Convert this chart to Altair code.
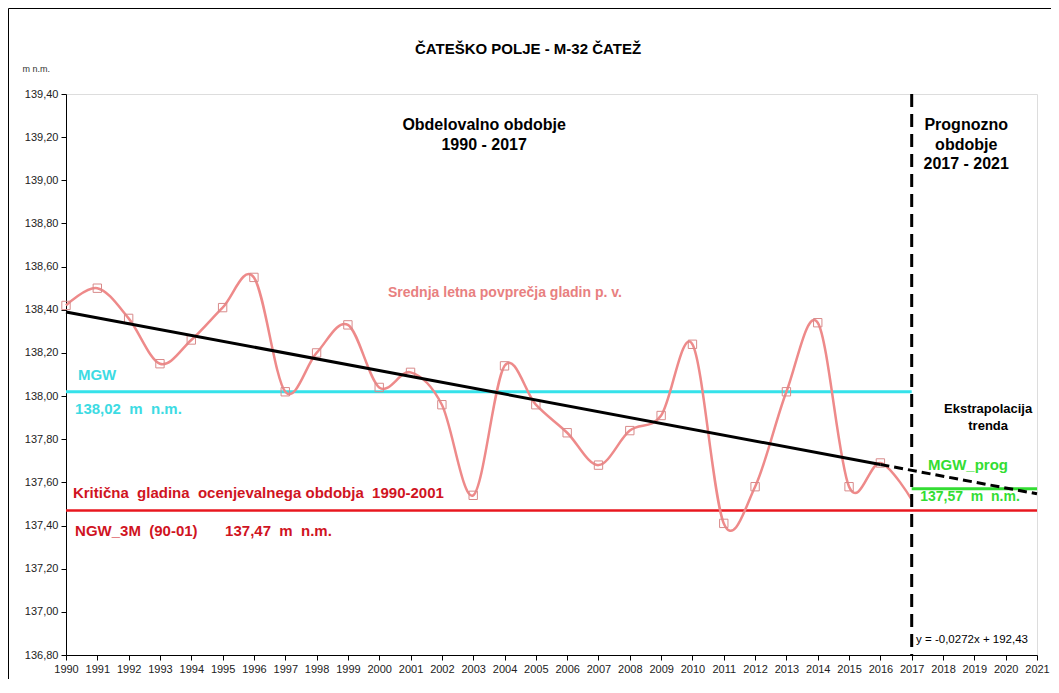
import altair as alt
import pandas as pd

# ---------------- data ----------------
years = list(range(1990, 2018))
levels = [138.42, 138.50, 138.36, 138.15, 138.26, 138.41, 138.55, 138.02,
          138.20, 138.33, 138.04, 138.11, 137.96, 137.54, 138.14, 137.96,
          137.83, 137.68, 137.84, 137.91, 138.24, 137.41, 137.58, 138.02,
          138.34, 137.58, 137.69, 137.52]

trend_solid_years = [1990, 2016]
trend_solid_values = [138.39, 137.683]
trend_dash_years = [2016, 2021]
trend_dash_values = [137.683, 137.547]

mgw_value = 138.02
ngw_value = 137.47
mgw_prog_value = 137.57
split_year = 2017
start_year = 1990
end_year = 2021

x_ticks = list(range(1990, 2022))
y_ticks = [136.8, 137.0, 137.2, 137.4, 137.6, 137.8, 138.0, 138.2,
           138.4, 138.6, 138.8, 139.0, 139.2, 139.4]

FONT = "Liberation Sans"
NB = "\u00a0"

# ---------------- encodings ----------------
x_scale = alt.Scale(domain=[1990, 2021], nice=False, zero=False)
y_scale = alt.Scale(domain=[136.8, 139.4], nice=False, zero=False)

x_axis = alt.Axis(values=x_ticks, format="d", grid=False, tickSize=5,
                  labelFontSize=11, labelFont=FONT, labelColor="#222222",
                  domainColor="#000000", tickColor="#000000", labelPadding=3,
                  labelFlush=False, title=None, labelOverlap=False)
y_axis = alt.Axis(values=y_ticks, grid=False, tickSize=5,
                  labelExpr="replace(format(datum.value, '.2f'), '.', ',')",
                  labelFontSize=11, labelFont=FONT, labelColor="#222222",
                  domainColor="#000000", tickColor="#000000", labelPadding=3,
                  title="m n.m.", titleAngle=0, titleX=-44, titleY=-26,
                  titleAlign="left", titleBaseline="middle", titleFontSize=9,
                  titleFontWeight="normal", titleFont=FONT, titleColor="#333333")


def X(field):
    return alt.X(f"{field}:Q", scale=x_scale, axis=x_axis)


def Y(field):
    return alt.Y(f"{field}:Q", scale=y_scale, axis=y_axis)


series = pd.DataFrame({"year": years, "level": levels})

# frame around the whole figure (left and top edges visible)
frame = alt.Chart(pd.DataFrame({"a": [0]})).mark_rect(
    filled=False, stroke="#000000", strokeWidth=1
).encode(x=alt.value(-57.5), x2=alt.value(1200), y=alt.value(-85.5), y2=alt.value(800))

mgw_line = alt.Chart(pd.DataFrame({"x": [start_year], "x2": [split_year], "y": [mgw_value]})).mark_rule(
    color="#35e2ea", strokeWidth=3
).encode(x=X("x"), x2="x2:Q", y=Y("y"))

ngw_line = alt.Chart(pd.DataFrame({"x": [start_year], "x2": [end_year], "y": [ngw_value]})).mark_rule(
    color="#e8171f", strokeWidth=2.5
).encode(x=X("x"), x2="x2:Q", y=Y("y"))

prog_line = alt.Chart(pd.DataFrame({"x": [split_year], "x2": [end_year], "y": [mgw_prog_value]})).mark_rule(
    color="#33dd33", strokeWidth=3
).encode(x=X("x"), x2="x2:Q", y=Y("y"))

level_line = alt.Chart(series).mark_line(
    color="#ee8a8a", strokeWidth=2.5, interpolate="cardinal"
).encode(x=X("year"), y=Y("level"))

level_points = alt.Chart(series).transform_filter(
    f"datum.year < {split_year}"
).mark_point(
    shape="square", size=70, filled=False, color="#d88a8a", strokeWidth=1, opacity=1
).encode(x=X("year"), y=Y("level"))

trend_solid = alt.Chart(pd.DataFrame({"year": trend_solid_years, "v": trend_solid_values})).mark_line(
    color="#000000", strokeWidth=3
).encode(x=X("year"), y=Y("v"))

trend_dash = alt.Chart(pd.DataFrame({"year": trend_dash_years, "v": trend_dash_values})).mark_line(
    color="#000000", strokeWidth=3, strokeDash=[9, 5]
).encode(x=X("year"), y=Y("v"))

split_rule = alt.Chart(pd.DataFrame({"x": [split_year]})).mark_rule(
    color="#000000", strokeWidth=3, strokeDash=[13, 7]
).encode(x=X("x"))


def label(text, x, y, color="#000000", size=14, align="left", weight="bold"):
    return alt.Chart(pd.DataFrame({"x": [x], "y": [y], "t": [text]})).mark_text(
        align=align, baseline="middle", font=FONT, fontSize=size,
        fontWeight=weight, color=color
    ).encode(x=X("x"), y=Y("y"), text="t:N")


PINK_TXT = "#e88080"
CYAN_TXT = "#3ddbe3"
RED_TXT = "#d0141f"
GREEN_TXT = "#33dd33"

texts = [
    label("ČATEŠKO POLJE - M-32 ČATEŽ", 2004.75, 139.608, size=15, align="center"),
    label("Obdelovalno obdobje", 2003.35, 139.257, size=16, align="center"),
    label("1990 - 2017", 2003.35, 139.165, size=16, align="center"),
    label("Prognozno", 2018.74, 139.257, size=16, align="center"),
    label("obdobje", 2018.74, 139.165, size=16, align="center"),
    label("2017 - 2021", 2018.74, 139.077, size=16, align="center"),
    label("Srednja letna povprečja gladin p. v.", 2000.28, 138.477, color=PINK_TXT, size=14),
    label("MGW", 1990.38, 138.098, color=CYAN_TXT, size=15),
    label(f"138,02{NB}{NB}m{NB}{NB}n.m.", 1990.29, 137.941, color=CYAN_TXT, size=15),
    label("Ekstrapolacija", 2019.44, 137.941, size=13, align="center"),
    label("trenda", 2019.44, 137.862, size=13, align="center"),
    label("MGW_prog", 2017.52, 137.682, color=GREEN_TXT, size=15),
    label(f"137,57{NB}{NB}m{NB}{NB}n.m.", 2017.27, 137.530, color=GREEN_TXT, size=14),
    label(f"Kritična{NB}{NB}gladina{NB}{NB}ocenjevalnega obdobja{NB}{NB}1990-2001",
          1990.22, 137.553, color=RED_TXT, size=15),
    label(f"NGW_3M{NB}{NB}(90-01)", 1990.29, 137.373, color=RED_TXT, size=15),
    label(f"137,47{NB}{NB}m{NB}{NB}n.m.", 1995.08, 137.373, color=RED_TXT, size=15),
    label("y = -0,0272x + 192,43", 2017.14, 136.869, size=11.5, weight="normal"),
]

chart = alt.layer(
    frame, mgw_line, ngw_line, prog_line, level_line, level_points,
    trend_solid, trend_dash, split_rule, *texts
).properties(
    width=971, height=561,
    autosize=alt.AutoSizeParams(type="none"),
    padding={"left": 58, "top": 86, "right": 14, "bottom": 24},
).configure_view(
    stroke="#000000", strokeWidth=1
).configure(background="#ffffff")

chart.save("out.html", embed_options={"renderer": "svg", "actions": False})
